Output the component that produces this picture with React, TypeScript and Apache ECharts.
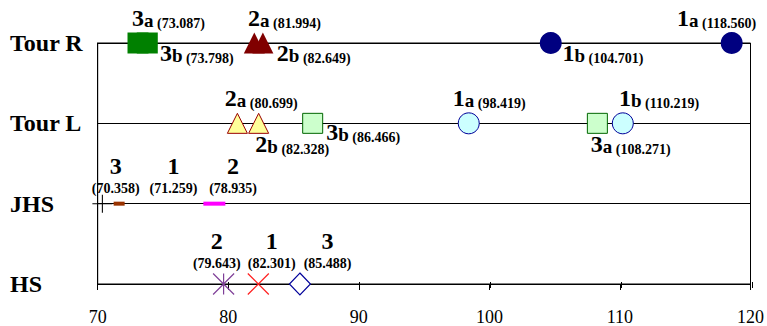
import React, { useEffect, useRef } from "react";
import * as echarts from "echarts";

// ---------- data ----------
const rowNames = ["HS", "JHS", "Tour L", "Tour R"];
const xMin = 70;
const xMax = 120;
const xInterval = 10;

const tourRIds = ["3a", "3b", "2a", "2b", "1b", "1a"];
const tourRValues = [73.087, 73.798, 81.994, 82.649, 104.701, 118.56];

const tourLIds = ["2a", "2b", "3b", "1a", "3a", "1b"];
const tourLValues = [80.699, 82.328, 86.466, 98.419, 108.271, 110.219];

const jhsIds = ["3", "1", "2"];
const jhsValues = [70.358, 71.259, 78.935];

const hsIds = ["2", "1", "3"];
const hsValues = [79.643, 82.301, 85.488];

// ---------- styles ----------
const FONT = "Liberation Serif, Times New Roman, serif";

type Mark = {
  symbol: string;
  size: number | number[];
  color: string;
  border?: string;
  borderWidth?: number;
  symbolOffset?: number[];
};

const PLUS = "path://M0,10L20,10M10,0L10,20";
const CROSS = "path://M0,0L20,20M20,0L0,20";
const STAR = "path://M0,0L20,20M20,0L0,20M10,0L10,20";

const tourRMarks: Record<string, Mark> = {
  "3": { symbol: "rect", size: 21, color: "#008000" },
  "2": { symbol: "triangle", size: [21, 21], color: "#800000" },
  "1": { symbol: "circle", size: 22, color: "#000080" },
};
const tourLMarks: Record<string, Mark> = {
  "3": { symbol: "rect", size: 20, color: "#CCFFCC", border: "#006600", borderWidth: 1 },
  "2": { symbol: "triangle", size: [20, 20], color: "#FFFF99", border: "#990000", borderWidth: 1 },
  "1": { symbol: "circle", size: 21, color: "#CCFFFF", border: "#000099", borderWidth: 1 },
};
const jhsMarks: Record<string, Mark> = {
  "3": { symbol: PLUS, size: [20, 18], color: "rgba(0,0,0,0)", border: "#000000", borderWidth: 1 },
  "1": { symbol: "rect", size: [11, 4], color: "#993300", symbolOffset: [5, 0] },
  "2": { symbol: "rect", size: [22, 4], color: "#FF00FF" },
};
const hsMarks: Record<string, Mark> = {
  "2": { symbol: STAR, size: [21, 21], color: "rgba(0,0,0,0)", border: "#7F3F98", borderWidth: 1.2 },
  "1": { symbol: CROSS, size: [21, 21], color: "rgba(0,0,0,0)", border: "#FF2020", borderWidth: 1.2 },
  "3": { symbol: "diamond", size: [21, 22], color: "#FFFFFF", border: "#000099", borderWidth: 1.2 },
};

// label offsets: [dx from marker centre to text left, dy from marker centre to baseline]
const tourRLabelPos: Record<string, number[]> = {
  "3a": [-6, -13],
  "3b": [12.6, 22],
  "2a": [-6.3, -13],
  "2b": [14, 22],
  "1b": [11.7, 22],
  "1a": [-54.6, -13],
};
const tourLLabelPos: Record<string, number[]> = {
  "2a": [-12.6, -13],
  "2b": [-3.3, 33],
  "3b": [13.6, 21],
  "1a": [-16, -13],
  "3a": [-6.6, 33],
  "1b": [-3.8, -13],
};
// two-line labels: [dx of centre, dy of bottom]
const jhsLabelPos: Record<string, number[]> = {
  "3": [13.3, -5],
  "1": [54.3, -5],
  "2": [18.7, -5],
};
const hsLabelPos: Record<string, number[]> = {
  "2": [-6.8, -10.5],
  "1": [13.4, -10.5],
  "3": [27.7, -10.5],
};

const oneLineRich = {
  big: { fontSize: 24, fontWeight: "bold", fontFamily: FONT, color: "#000", lineHeight: 16.8, verticalAlign: "bottom" },
  sub: { fontSize: 19, fontWeight: "bold", fontFamily: FONT, color: "#000", lineHeight: 13.3, verticalAlign: "bottom" },
  val: { fontSize: 14, fontWeight: "bold", fontFamily: FONT, color: "#000", lineHeight: 9.8, verticalAlign: "bottom" },
};
const twoLineRich = {
  big: { fontSize: 24, fontWeight: "bold", fontFamily: FONT, color: "#000", lineHeight: 26, align: "center" },
  val: { fontSize: 14, fontWeight: "bold", fontFamily: FONT, color: "#000", lineHeight: 20, align: "center" },
};

function markStyle(m: Mark) {
  return {
    symbol: m.symbol,
    symbolSize: m.size,
    symbolOffset: m.symbolOffset || [0, 0],
    itemStyle: {
      color: m.color,
      borderColor: m.border || m.color,
      borderWidth: m.borderWidth || 0,
      opacity: 1,
    },
  };
}

function buildPoints(
  row: string,
  ids: string[],
  values: number[],
  marks: Record<string, Mark>,
  pos: Record<string, number[]>,
  twoLine: boolean
) {
  return values.map((v, i) => {
    const id = ids[i];
    const m = marks[id[0]];
    const p = pos[id];
    const text = twoLine
      ? `{big|${id}}\n{val|(${v.toFixed(3)})}`
      : `{big|${id[0]}}{sub|${id.slice(1)}}{val| (${v.toFixed(3)})}`;
    return {
      value: [v, row],
      ...markStyle(m),
      label: {
        show: true,
        position: "inside",
        align: twoLine ? "center" : "left",
        verticalAlign: "bottom",
        offset: p,
        color: "#000",
        fontFamily: FONT,
        fontWeight: "bold",
        textBorderWidth: 0,
        formatter: text,
        rich: twoLine ? twoLineRich : oneLineRich,
      },
    };
  });
}

export default function App() {
  const ref = useRef<HTMLDivElement>(null);

  useEffect(() => {
    if (!ref.current) return;
    const chart = echarts.init(ref.current, undefined, { renderer: "svg" });

    const gridBox = { left: 97.7, right: 14.8, top: 43, bottom: 38 };

    const data = [
      ...buildPoints("Tour R", tourRIds, tourRValues, tourRMarks, tourRLabelPos, false),
      ...buildPoints("Tour L", tourLIds, tourLValues, tourLMarks, tourLLabelPos, false),
      ...buildPoints("JHS", jhsIds, jhsValues, jhsMarks, jhsLabelPos, true),
      ...buildPoints("HS", hsIds, hsValues, hsMarks, hsLabelPos, true),
    ];

    chart.setOption({
      animation: false,
      textStyle: { fontFamily: FONT },
      grid: [
        { ...gridBox, show: true, borderColor: "#000", borderWidth: 1, backgroundColor: "transparent" },
        { ...gridBox, show: false },
      ],
      xAxis: [
        {
          gridIndex: 0,
          type: "value",
          min: xMin,
          max: xMax,
          interval: xInterval,
          position: "bottom",
          axisLine: { show: true, lineStyle: { color: "#000", width: 1 } },
          axisTick: { show: true, inside: false, length: 6, lineStyle: { color: "#000" } },
          splitLine: { show: false },
          axisLabel: { color: "#000", fontFamily: FONT, fontSize: 18, margin: 24 },
        },
        {
          gridIndex: 1,
          type: "value",
          min: xMin,
          max: xMax,
          interval: xInterval,
          position: "bottom",
          axisLine: { show: false },
          axisTick: { show: true, inside: true, length: 6, lineStyle: { color: "#000" } },
          splitLine: { show: false },
          axisLabel: { show: false },
        },
      ],
      yAxis: [
        {
          gridIndex: 0,
          type: "category",
          data: rowNames,
          boundaryGap: false,
          axisLine: { show: true, lineStyle: { color: "#000", width: 1 } },
          axisTick: { show: false },
          splitLine: { show: true, lineStyle: { color: "#000", width: 1 } },
          axisLabel: {
            color: "#000",
            fontFamily: FONT,
            fontSize: 24,
            fontWeight: "bold",
            align: "left",
            margin: 87.7,
            padding: [4, 0, 0, 0],
          },
        },
        { gridIndex: 1, type: "value", show: false, min: 0, max: 1 },
      ],
      series: [
        {
          type: "scatter",
          xAxisIndex: 0,
          yAxisIndex: 0,
          clip: false,
          data,
          emphasis: { disabled: true },
        },
      ],
    });

    return () => chart.dispose();
  }, []);

  return (
    <div
      ref={ref}
      style={{ position: "fixed", left: 0, top: 0, width: 767, height: 326, background: "#fff" }}
    />
  );
}
